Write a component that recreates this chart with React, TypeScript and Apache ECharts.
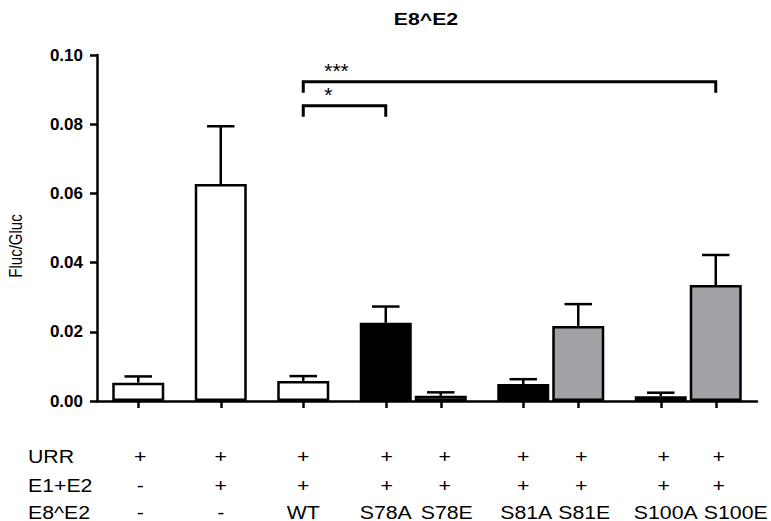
import React, { useEffect, useRef } from "react";
import * as echarts from "echarts";

// ---- data ----
const urrRow = ["+", "+", "+", "+", "+", "+", "+", "+", "+"];
const e1e2Row = ["-", "+", "+", "+", "+", "+", "+", "+", "+"];
const e8e2Row = ["-", "-", "WT", "S78A", "S78E", "S81A", "S81E", "S100A", "S100E"];
const groupIds = [0, 1, 2, 3, 3, 4, 4, 5, 5];
const means = [0.0053, 0.0627, 0.0058, 0.0226, 0.0015, 0.0049, 0.0217, 0.0014, 0.0335];
const sems = [0.0018, 0.0167, 0.0014, 0.0047, 0.001, 0.0014, 0.0063, 0.001, 0.0087];
const barFills = ["#ffffff", "#ffffff", "#ffffff", "#000000", "#a1a1a6", "#000000", "#a1a1a6", "#000000", "#a1a1a6"];
const rowHeaders = ["URR", "E1+E2", "E8^E2"];
const yTicks = [0, 0.02, 0.04, 0.06, 0.08, 0.1];
const sigFrom = [2, 2];
const sigTo = [8, 3];
const sigLevel = [0.0923, 0.0853];
const sigMarks = ["***", "*"];
const titleText = "E8^E2";
const yName = "Fluc/Gluc";

// ---- style / layout constants ----
const FONT = "Liberation Sans, Arial, Helvetica, sans-serif";
const plusShift = [2, 0, 0, 1, 4, 0, 3, 3, 3];
const nameShift = [2, 0, 0, 0, 6, 3, 6, 5, 20];
const rowY = [456, 485, 512];

// slot layout: bars within a group are adjacent (2 slots), groups separated by 3 slots
const slots: number[] = [];
{
  let s = 1;
  groupIds.forEach((g, i) => {
    if (i > 0) s += g === groupIds[i - 1] ? 2 : 3;
    slots.push(s);
  });
}
const slotCount = slots[slots.length - 1] + 2;
const categories = Array.from({ length: slotCount }, (_, k) => String(k));
const slotToIdx = new Map<number, number>();
slots.forEach((s, i) => slotToIdx.set(s, i));

function txt(text: string, x: number, y: number, size: number, opts: any = {}) {
  return {
    type: "text",
    x,
    y,
    rotation: opts.rotation || 0,
    scaleX: opts.scaleX || 1,
    scaleY: opts.scaleY || 1,
    style: {
      text,
      fill: "#000",
      fontSize: size,
      fontFamily: FONT,
      fontWeight: opts.bold ? "bold" : "normal",
      align: opts.align || "center",
      verticalAlign: "middle",
      textAlign: opts.align || "center",
      textVerticalAlign: "middle",
    },
  };
}

export default function App() {
  const ref = useRef<HTMLDivElement>(null);
  useEffect(() => {
    if (!ref.current) return;
    const chart = echarts.init(ref.current, undefined, { renderer: "svg" });
    const option: any = {
      animation: false,
      backgroundColor: "#ffffff",
      grid: { left: 97, right: 14, top: 55, bottom: 120, containLabel: false },
      xAxis: {
        type: "category",
        data: categories,
        boundaryGap: true,
        axisLine: { show: true, lineStyle: { color: "#000", width: 2.5 } },
        axisTick: {
          show: true,
          alignWithLabel: true,
          length: 7,
          interval: (idx: number) => slotToIdx.has(idx),
          lineStyle: { color: "#000", width: 2.5 },
        },
        axisLabel: { show: false },
        splitLine: { show: false },
      },
      yAxis: {
        type: "value",
        min: yTicks[0],
        max: yTicks[yTicks.length - 1],
        interval: yTicks[1] - yTicks[0],
        axisLine: { show: true, lineStyle: { color: "#000", width: 2.5 } },
        axisTick: { show: true, length: 7, lineStyle: { color: "#000", width: 2.5 } },
        axisLabel: {
          margin: 14,
          color: "#000",
          fontSize: 17,
          fontWeight: "bold",
          fontFamily: FONT,
          formatter: (v: number) => v.toFixed(2),
        },
        splitLine: { show: false },
      },
      series: [
        {
          type: "bar",
          barWidth: 52,
          data: means.map((m, i) => ({
            value: [slots[i], m],
            itemStyle: { color: barFills[i], borderColor: "#000", borderWidth: 2.5 },
          })),
          z: 2,
        },
        {
          type: "custom",
          z: 3,
          data: means.map((m, i) => [slots[i], m, sems[i]]),
          encode: { x: 0, y: 1 },
          renderItem: (params: any, api: any) => {
            const x = api.value(0);
            const m = api.value(1);
            const e = api.value(2);
            const base = api.coord([x, m]);
            const top = api.coord([x, m + e]);
            const half = api.size([1, 0])[0] / 2;
            const ls = { stroke: "#000", lineWidth: 2.5 };
            return {
              type: "group",
              children: [
                { type: "line", shape: { x1: base[0], y1: base[1], x2: top[0], y2: top[1] }, style: ls },
                { type: "line", shape: { x1: top[0] - half, y1: top[1], x2: top[0] + half, y2: top[1] }, style: ls },
              ],
            };
          },
        },
        {
          type: "custom",
          z: 3,
          data: sigFrom.map((f, i) => [slots[f], slots[sigTo[i]], sigLevel[i], i]),
          encode: { x: [0, 1], y: 2 },
          renderItem: (params: any, api: any) => {
            const a = api.coord([api.value(0), api.value(2)]);
            const b = api.coord([api.value(1), api.value(2)]);
            const i = api.value(3);
            const drop = 11;
            const ls = { stroke: "#000", lineWidth: 3, fill: "none" };
            return {
              type: "group",
              children: [
                {
                  type: "polyline",
                  shape: { points: [[a[0], a[1] + drop], [a[0], a[1]], [b[0], b[1]], [b[0], b[1] + drop]] },
                  style: ls,
                },
                {
                  type: "text",
                  x: a[0] + 21,
                  y: a[1] - 1,
                  style: {
                    text: sigMarks[i],
                    fill: "#000",
                    fontSize: 21,
                    fontFamily: FONT,
                    align: "left",
                    verticalAlign: "bottom",
                    textAlign: "left",
                    textVerticalAlign: "bottom",
                  },
                },
              ],
            };
          },
        },
      ],
    };
    chart.setOption(option);

    const xs = slots.map((s) => chart.convertToPixel({ xAxisIndex: 0 }, String(s)) as number);
    const graphics: any[] = [
      txt(titleText, 426, 19, 17, { bold: true, scaleX: 1.25 }),
      txt(yName, 16, 246, 15, { rotation: Math.PI / 2, scaleY: 1.2 }),
      ...rowHeaders.map((t, r) => txt(t, 28, rowY[r], 19, { align: "left", scaleX: 1.12 })),
    ];
    xs.forEach((x, i) => {
      graphics.push(txt(urrRow[i], x + plusShift[i], rowY[0], 19, { scaleX: 1.12 }));
      graphics.push(txt(e1e2Row[i], x + plusShift[i], rowY[1], 19, { scaleX: 1.12 }));
      graphics.push(txt(e8e2Row[i], x + nameShift[i], rowY[2], 19, { scaleX: 1.12 }));
    });
    chart.setOption({ graphic: graphics });
    return () => chart.dispose();
  }, []);
  return (
    <div
      ref={ref}
      style={{ position: "fixed", left: 0, top: 0, width: 771, height: 521, background: "#fff" }}
    />
  );
}
